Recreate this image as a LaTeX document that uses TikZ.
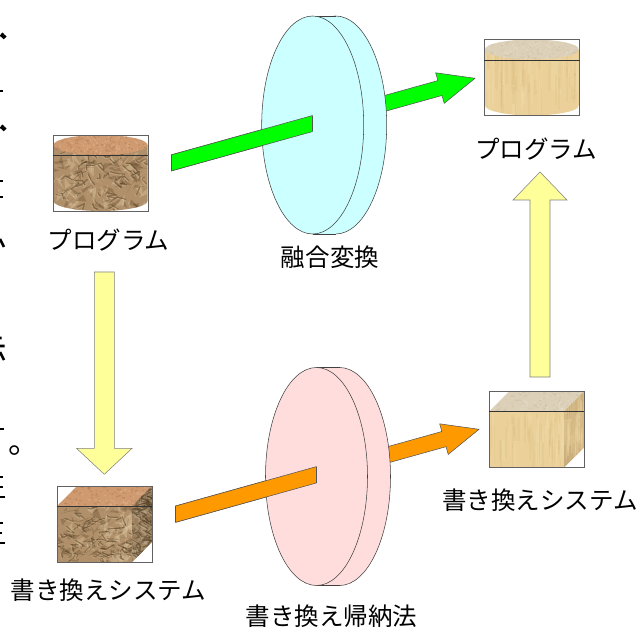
\documentclass[tikz,border=0pt]{standalone}
\usepackage{fontspec}
\setmainfont{Noto Sans CJK JP}
\usetikzlibrary{calc,shapes.geometric}
\definecolor{crbase}{HTML}{B0906A}
\definecolor{crdark}{HTML}{4A3318}
\definecolor{crlight}{HTML}{DCC7A2}
\definecolor{crtop}{HTML}{CF9A70}
\definecolor{crtopd}{HTML}{B27C52}
\definecolor{crtopl}{HTML}{E2B892}
\definecolor{wdbase}{HTML}{EBD199}
\definecolor{wddark}{HTML}{D9BA7E}
\definecolor{wdlight}{HTML}{F2DFB3}
\definecolor{wdtop}{HTML}{DCD0B8}
\definecolor{wdtopd}{HTML}{CDBFA4}
\definecolor{wdtopl}{HTML}{E8DFCF}
\definecolor{wdside}{HTML}{C9AD7A}
\definecolor{arrowline}{HTML}{555555}
\definecolor{orangefill}{HTML}{FF9900}
\definecolor{yellowfill}{HTML}{FFFF99}
\definecolor{cyanfill}{HTML}{CCFFFF}
\definecolor{pinkfill}{HTML}{FFDDDD}
\tikzset{
  itembox/.style={draw=black!62,line width=.55pt,minimum width=71.25pt,minimum height=57pt,inner sep=0pt,fill=none},
  label/.style={font=\fontsize{18.4pt}{20pt}\selectfont,inner sep=0pt,text=black},
  maruglyph/.style={font=\fontsize{24pt}{26pt}\selectfont,inner sep=0pt,text=black},
  yellowarrow/.style={fill=yellowfill,draw=black!50,line width=.4pt,line join=miter},
  greenarrow/.style={fill=green,draw=arrowline,line width=.4pt,line join=miter},
  orangearrow/.style={fill=orangefill,draw=arrowline,line width=.4pt,line join=miter},
  diskfront/.style={shape=ellipse,draw=black!75,line width=.4pt,minimum width=76.5pt,minimum height=163.5pt,inner sep=0pt},
  divider/.style={draw=black!80,line width=.5pt},
  frag/.style={draw=black,line width=2pt},
}
% style, a, b, shaft half width, head length, head half width
\newcommand\blockarrow[6]{%
  \coordinate (nk) at ($(#3)!#5!(#2)$);
  \draw[#1] ($(#2)!#4!90:(#3)$) -- ($(nk)!#4!90:(#3)$) -- ($(nk)!#6!90:(#3)$) -- (#3)
     -- ($(nk)!#6!-90:(#3)$) -- ($(nk)!#4!-90:(#3)$) -- ($(#2)!#4!-90:(#3)$) -- cycle;
}
\newcommand\crumpletex[4]{%
  \fill[crbase] (#1,#3) rectangle (#2,#4);
  \foreach \i in {1,...,80}{
    \pgfmathsetmacro\xa{#1+rnd*(#2-#1)}
    \pgfmathsetmacro\ya{#3+rnd*(#4-#3)}
    \pgfmathsetmacro\dxa{rand*11}\pgfmathsetmacro\dya{rand*8}
    \pgfmathsetmacro\dxb{rand*11}\pgfmathsetmacro\dyb{rand*8}
    \fill[crdark,opacity=.25] (\xa,\ya) -- ++(\dxa,\dya) -- ++(\dxb,\dyb) -- cycle;
    \pgfmathsetmacro\xa{#1+rnd*(#2-#1)}
    \pgfmathsetmacro\ya{#3+rnd*(#4-#3)}
    \fill[crlight,opacity=.4] (\xa,\ya) -- ++(\dyb,\dxa) -- ++(\dya,\dxb) -- cycle;
  }
  \foreach \i in {1,...,60}{
    \pgfmathsetmacro\xa{#1+rnd*(#2-#1)}
    \pgfmathsetmacro\ya{#3+rnd*(#4-#3)}
    \pgfmathsetmacro\dxa{rand*9}\pgfmathsetmacro\dya{rand*6}
    \pgfmathsetmacro\dxb{rand*9}\pgfmathsetmacro\dyb{rand*6}
    \pgfmathsetmacro\wd{.4+rnd*.8}
    \draw[crlight,opacity=.35,line width=\wd pt,line join=round,line cap=round] (\xa-.8,\ya+1) -- ++(\dxa,\dya) -- ++(\dxb,\dyb);
    \draw[crdark,opacity=.45,line width=\wd pt,line join=round,line cap=round] (\xa,\ya) -- ++(\dxa,\dya) -- ++(\dxb,\dyb);
  }
}
\newcommand\speckletex[7]{% x0 x1 y0 y1 base dark light
  \fill[#5] (#1,#3) rectangle (#2,#4);
  \foreach \i in {1,...,90}{
    \pgfmathsetmacro\xa{#1+rnd*(#2-#1)}
    \pgfmathsetmacro\ya{#3+rnd*(#4-#3)}
    \pgfmathsetmacro\dxa{rand*3}\pgfmathsetmacro\dya{rand*2}
    \draw[#6,opacity=.5,line width=.9pt] (\xa,\ya) -- ++(\dxa,\dya);
    \pgfmathsetmacro\xa{#1+rnd*(#2-#1)}
    \pgfmathsetmacro\ya{#3+rnd*(#4-#3)}
    \draw[#7,opacity=.5,line width=.9pt] (\xa,\ya) -- ++(\dya,\dxa);
  }
}
\newcommand\woodtex[5]{% x0 x1 y0 y1 base
  \fill[#5] (#1,#3) rectangle (#2,#4);
  \foreach \i in {1,...,45}{
    \pgfmathsetmacro\xa{#1+rnd*(#2-#1)}
    \pgfmathsetmacro\wd{.6+rnd*1.6}
    \pgfmathsetmacro\ya{#3+rnd*(#4-#3)*.6}
    \pgfmathsetmacro\yb{\ya+8+rnd*(#4-#3)*.6}
    \draw[wddark,opacity=.25,line width=\wd pt] (\xa,\ya) -- (\xa,\yb);
    \pgfmathsetmacro\xa{#1+rnd*(#2-#1)}
    \draw[wdlight,opacity=.25,line width=\wd pt] (\xa,\ya) -- (\xa,\yb);
  }
}
% centre x, top y, side texture, top texture
\newcommand\cylinderitem[4]{%
  \pgfmathsetmacro\cx{#1}\pgfmathsetmacro\xl{#1-47}\pgfmathsetmacro\xr{#1+47}
  \pgfmathsetmacro\yc{#2+10}\pgfmathsetmacro\yb{#2+66}\pgfmathsetmacro\ye{#2+76}
  \pgfmathsetmacro\yk{#2+71.5}
  \pgfmathsetmacro\xkl{#1-25}\pgfmathsetmacro\xkr{#1+25}
  \begin{scope}
    \clip (\xl,\yc) -- (\xr,\yc) -- (\xr,\yb) .. controls (\xr,\yk) and (\xkr,\ye) .. (\cx,\ye)
       .. controls (\xkl,\ye) and (\xl,\yk) .. (\xl,\yb) -- cycle;
    #3{\xl}{\xr}{\yc}{\ye}
  \end{scope}
  \begin{scope}
    \clip (\cx,\yc) ellipse [x radius=47,y radius=10];
    #4{\xl}{\xr}{#2}{#2+20}
  \end{scope}
}
\newcommand\crumpleside[4]{\crumpletex{#1}{#2}{#3}{#4}}
\newcommand\crumpletop[4]{\speckletex{#1}{#2}{#3}{#4}{crtop}{crtopd}{crtopl}}
\newcommand\woodside[4]{\woodtex{#1}{#2}{#3}{#4}{wdbase}}
\newcommand\woodtop[4]{\speckletex{#1}{#2}{#3}{#4}{wdtop}{wdtopd}{wdtopl}}
\newcommand\woodright[4]{\woodtex{#1}{#2}{#3}{#4}{wdside}}
\newcommand\crumpleright[4]{\crumpletex{#1}{#2}{#3}{#4}\fill[black,opacity=.12] (#1,#3) rectangle (#2,#4);}
% left x, top y, front texture, top texture, right texture
\newcommand\cubeitem[5]{%
  \pgfmathsetmacro\xa{#1}\pgfmathsetmacro\xb{#1+20}\pgfmathsetmacro\xc{#1+75}\pgfmathsetmacro\xd{#1+95}
  \pgfmathsetmacro\ya{#2}\pgfmathsetmacro\yb{#2+20}\pgfmathsetmacro\yc{#2+56}\pgfmathsetmacro\yd{#2+76}
  \begin{scope}\clip (\xa,\yb) rectangle (\xc,\yd); #3{\xa}{\xc}{\yb}{\yd}\end{scope}
  \begin{scope}\clip (\xa,\yb) -- (\xb,\ya) -- (\xd,\ya) -- (\xc,\yb) -- cycle; #4{\xa}{\xd}{\ya}{\yb}\end{scope}
  \begin{scope}\clip (\xc,\yb) -- (\xd,\ya) -- (\xd,\yc) -- (\xc,\yd) -- cycle; #5{\xc}{\xd}{\ya}{\yd}\end{scope}
}
\begin{document}
\begin{tikzpicture}[x=.75pt,y=-.75pt]
\useasboundingbox (0,0) rectangle (639,627);
\pgfmathsetseed{4217}
\fill[white] (0,0) rectangle (639,627);

% clipped text fragments at the left edge
\draw[frag] (.8,36.7) -- (3.3,33.3) (2.7,38.3) -- (5.7,35.7);
\draw[frag] (0,91) -- (2.5,91);
\draw[frag] (.8,128.7) -- (3.3,125.3) (2.7,130.3) -- (5.7,127.7);
\draw[frag] (0,181) -- (2.5,181) (0,197) -- (2.5,197);
\draw[frag] (0,239) -- (4,247);
\draw[frag] (0,338) -- (1.5,338) (0,346) -- (4.5,346) (0,352) -- (4,360);
\draw[frag] (0,429) -- (3.5,429);
\draw[frag] (0,477) -- (3,477) (0,487) -- (2.5,487) (0,497) -- (5,497);
\draw[frag] (0,523) -- (3,523) (0,533) -- (2,533) (0,543) -- (5,543);
\node[maruglyph,anchor=base west] (maru) at (8.6,453) {。};

% items
\cylinderitem{100.5}{135}{\crumpleside}{\crumpletop}
\node[itembox] (srcprog) at (100.5,173) {};
\draw[divider] (srcprog.west |- 0,155) -- (srcprog.east |- 0,155);
\cylinderitem{532}{39.5}{\woodside}{\woodtop}
\node[itembox] (dstprog) at (532,77.5) {};
\draw[divider] (dstprog.west |- 0,60) -- (dstprog.east |- 0,60);
\cubeitem{57}{486}{\crumpleside}{\crumpletop}{\crumpleright}
\node[itembox] (srcsys) at (104.5,524) {};
\draw[divider] (srcsys.west |- 0,506) -- (srcsys.east |- 0,506);
\cubeitem{489}{391.5}{\woodside}{\woodtop}{\woodright}
\node[itembox] (dstsys) at (536.5,429.5) {};
\draw[divider] (dstsys.west |- 0,411.5) -- (dstsys.east |- 0,411.5);

% labels
\node[label] (lsrcprog) at (108.5,240) {プログラム};
\node[label] (ldstprog) at (536,149) {プログラム};
\node[label] (lsrcsys) at (108.5,590) {書き換えシステム};
\node[label] (ldstsys) at (540,500) {書き換えシステム};
\node[label] (lfusion) at (330,257) {融合変換};
\node[label] (linduct) at (331.5,616) {書き換え帰納法};

% yellow arrows
\coordinate (ya1) at (104.3,272);
\coordinate (yb1) at (104.3,474.3);
\coordinate (ya2) at (540,377);
\coordinate (yb2) at (540,172);
\blockarrow{yellowarrow}{ya1}{yb1}{7.5pt}{19.5pt}{20.85pt}
\blockarrow{yellowarrow}{ya2}{yb2}{7.5pt}{21pt}{20.25pt}

% top: green arrow passing through the cyan disk
\coordinate (ga) at (135,173);
\coordinate (gb) at (475,78.3);
\begin{scope}
  \clip (171,0) rectangle (639,627);
  \blockarrow{greenarrow}{ga}{gb}{5.8pt}{27.3pt}{11.9pt}
\end{scope}
\node[diskfront,fill=cyanfill] (fusionback) at (335.7,125) {};
\fill[cyanfill] (312.7,16) rectangle (335.7,234);
\draw[black!75,line width=.4pt] (312.7,16) -- (335.7,16) (312.7,234) -- (335.7,234);
\node[diskfront,fill=cyanfill] (fusion) at (312.7,125) {};
\begin{scope}
  \clip (171,0) rectangle (312.7,627);
  \blockarrow{greenarrow}{ga}{gb}{5.8pt}{27.3pt}{11.9pt}
\end{scope}
\draw[arrowline,line width=.4pt] (312.7,115.7) -- (312.7,131) (171,155) -- (171,171);

% bottom: orange arrow passing through the pink disk
\coordinate (oa) at (139,524.4);
\coordinate (ob) at (479,429.3);
\begin{scope}
  \clip (175.3,0) rectangle (639,627);
  \blockarrow{orangearrow}{oa}{ob}{5.9pt}{27.3pt}{11.9pt}
\end{scope}
\node[diskfront,fill=pinkfill] (inductback) at (339.5,476.5) {};
\fill[pinkfill] (316.5,367.5) rectangle (339.5,585.5);
\draw[black!75,line width=.4pt] (316.5,367.5) -- (339.5,367.5) (316.5,585.5) -- (339.5,585.5);
\node[diskfront,fill=pinkfill] (induct) at (316.5,476.5) {};
\begin{scope}
  \clip (175.3,0) rectangle (316.7,627);
  \blockarrow{orangearrow}{oa}{ob}{5.9pt}{27.3pt}{11.9pt}
\end{scope}
\draw[arrowline,line width=.4pt] (316.7,467) -- (316.7,482.7) (175.3,506) -- (175.3,522.3);
\end{tikzpicture}
\end{document}
